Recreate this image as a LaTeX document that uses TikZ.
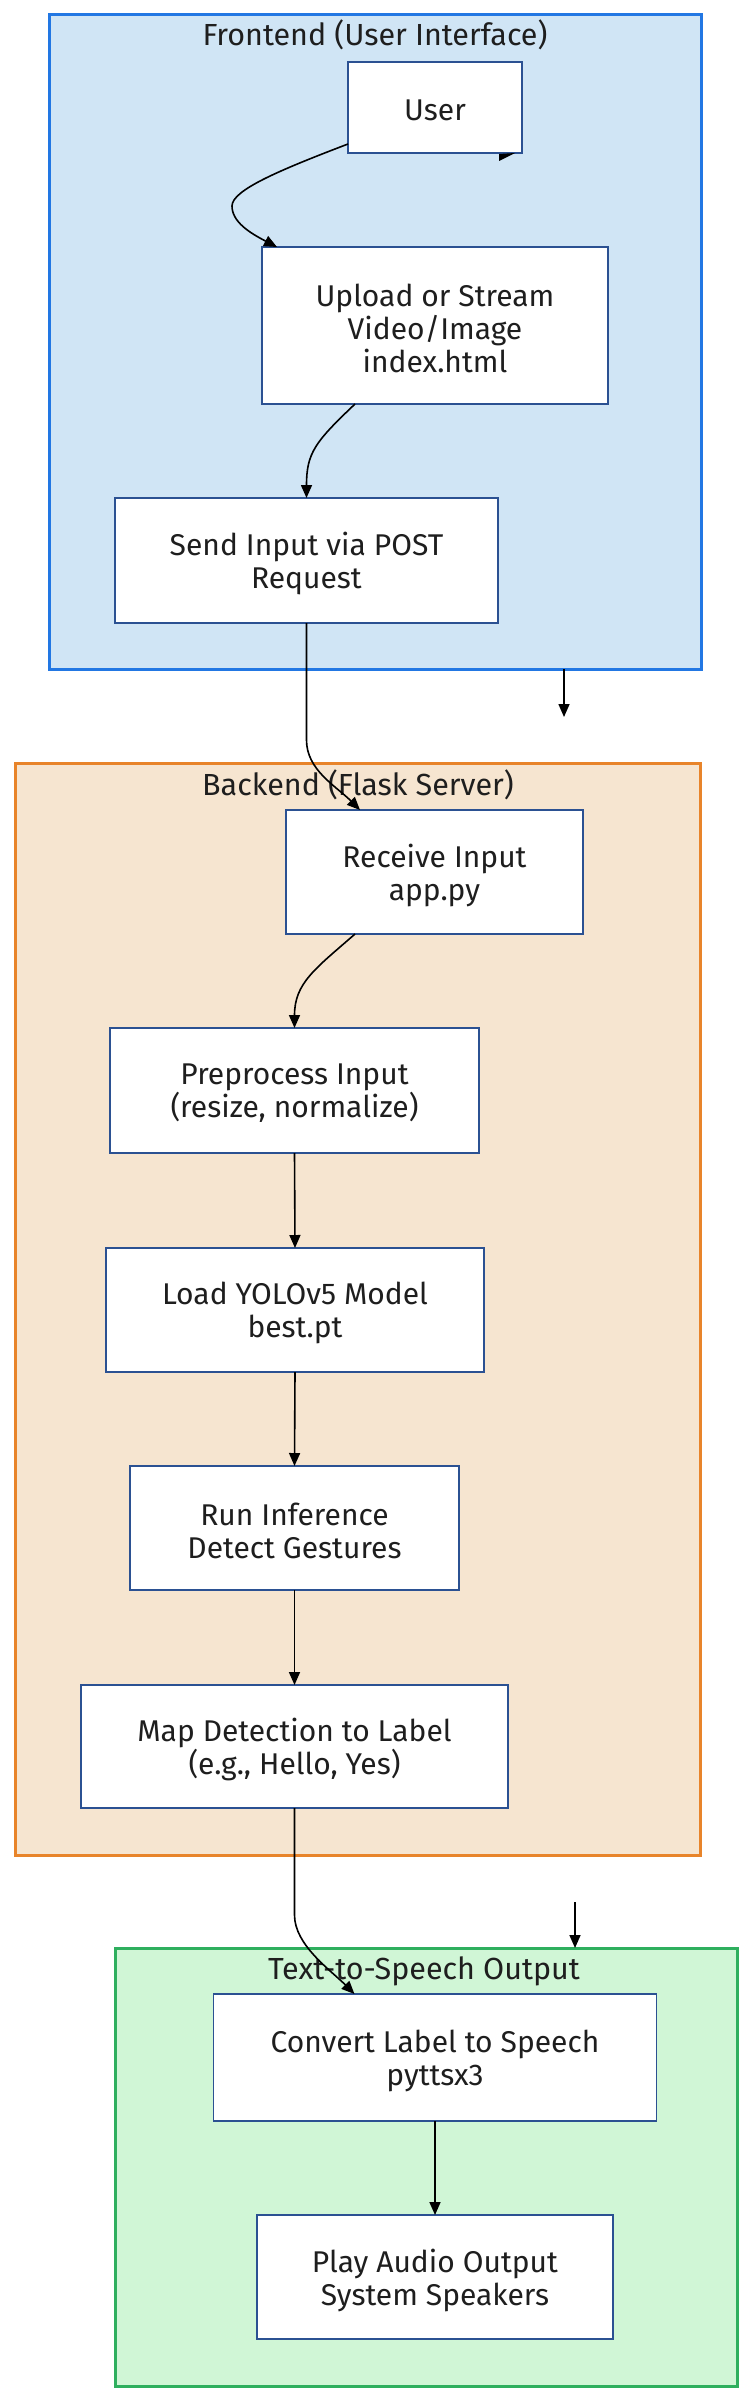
\documentclass[tikz,border=0pt]{standalone}
\usepackage{fontspec}
\setmainfont{Fira Sans}
\usetikzlibrary{arrows.meta,calc}
\definecolor{feFill}{HTML}{D0E5F5}
\definecolor{feLine}{HTML}{2277E3}
\definecolor{beFill}{HTML}{F6E5D0}
\definecolor{beLine}{HTML}{E8842A}
\definecolor{ttFill}{HTML}{D0F6D6}
\definecolor{ttLine}{HTML}{2EAF5E}
\definecolor{boxLine}{HTML}{2B5192}
\definecolor{txt}{HTML}{1E1E1E}
\tikzset{
  cluster/.style={draw, line width=3pt, inner sep=0pt, outer sep=0pt},
  ctitle/.style={inner sep=0pt, text=txt, font=\fontsize{30.5}{33}\selectfont},
  boxtext/.style={inner sep=0pt, align=center, text=txt, yshift=-3pt,
    font=\fontsize{30}{33}\selectfont},
  box/.style={draw=boxLine, fill=white, line width=1.4pt, inner sep=0pt, outer sep=0pt,
    label={[boxtext]center:#1}},
  arr/.style={draw=black, line width=1.6pt, -{Triangle[length=13pt,width=11pt]}}
}
\begin{document}
\begin{tikzpicture}[x=1pt,y=-1pt]
\useasboundingbox (0,0) rectangle (752,2400);
\fill[white] (0,0) rectangle (752,2400);
% clusters
\node[cluster, draw=feLine, fill=feFill, minimum width=652pt, minimum height=654pt] (fe) at (375,342) {};
\node[cluster, draw=beLine, fill=beFill, minimum width=685pt, minimum height=1092pt] (be) at (357.5,1309) {};
\node[cluster, draw=ttLine, fill=ttFill, minimum width=622pt, minimum height=438pt] (tt) at (426,2167) {};
\node[ctitle] (fet) at (375,35) {Frontend (User Interface)};
\node[ctitle] (bet) at (358,785) {Backend (Flask Server)};
\node[ctitle] (ttt) at (424,1971) {Text-to-Speech Output};
% nodes
\node[box={User}, minimum width=174pt, minimum height=91pt] (user) at (435,107.5) {};
\node[box={Upload or Stream\\Video/Image\\index.html}, minimum width=346pt, minimum height=157pt] (upload) at (435,325.5) {};
\node[box={Send Input via POST\\Request}, minimum width=383pt, minimum height=125pt] (send) at (306.5,560.5) {};
\node[box={Receive Input\\app.py}, minimum width=297pt, minimum height=124pt] (receive) at (434.5,872) {};
\node[box={Preprocess Input\\(resize, normalize)}, minimum width=369pt, minimum height=125pt] (pre) at (294.5,1090.5) {};
\node[box={Load YOLOv5 Model\\best.pt}, minimum width=378pt, minimum height=124pt] (load) at (295,1310) {};
\node[box={Run Inference\\Detect Gestures}, minimum width=329pt, minimum height=124pt] (run) at (294.5,1528) {};
\node[box={Map Detection to Label\\(e.g., Hello, Yes)}, minimum width=427pt, minimum height=123pt] (map) at (294.5,1746.5) {};
\node[box={Convert Label to Speech\\pyttsx3}, minimum width=443pt, minimum height=127pt] (conv) at (435,2057.5) {};
\node[box={Play Audio Output\\System Speakers}, minimum width=356pt, minimum height=124pt] (play) at (435,2277) {};
% waypoints
\coordinate (w1) at (232,206);
\coordinate (w2) at (306.5,740);
\coordinate (w3) at (294.5,1915);
% edges
\draw[arr] ([yshift=9pt]user.south west) .. controls +(-68,26) and +(0,-16) .. (w1)
  .. controls +(0,16) and +(-27,-14) .. ([xshift=15pt]upload.north west);
\draw[arr] ([xshift=93pt]upload.south west) .. controls +(-40,38) and +(0,-45) .. (send.north);
\draw[arr] (send.south) -- (w2) .. controls +(0,30) and +(-24,-24) .. ([xshift=74pt]receive.north west);
\draw[arr] ([xshift=69pt]receive.south west) .. controls +(-40,35) and +(0,-45) .. (pre.north);
\draw[arr] (pre.south) -- (load.north);
\draw[arr] (load.south) -- (run.north);
\draw[arr] (run.south) -- (map.north);
\draw[arr] (map.south) -- (w3) .. controls +(0,30) and +(-24,-24) .. ([xshift=141pt]conv.north west);
\draw[arr] (conv.south) -- (play.north);
% stray arrows
\coordinate (s1) at ([xshift=515pt]fe.south west);
\draw[arr] (s1) -- ++(0,48);
\coordinate (s2) at (575,1902);
\draw[arr] (s2) -- ([xshift=460pt]tt.north west);
\fill[black] ([xshift=-23pt,yshift=-1pt]user.south east) -- ([xshift=-7pt]user.south east) -- ([xshift=-23pt,yshift=-8pt]user.south east) -- cycle;
\end{tikzpicture}
\end{document}
